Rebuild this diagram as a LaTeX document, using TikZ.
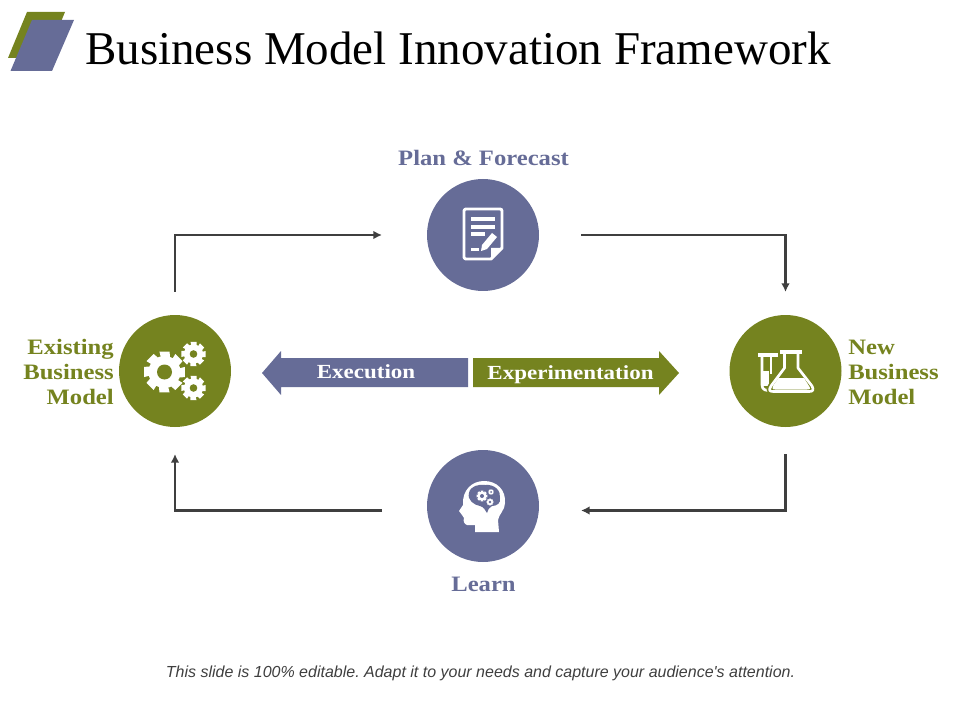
\documentclass[tikz,border=0pt]{standalone}
\usepackage{fontspec}
\setmainfont{Liberation Serif}
\newfontfamily\footfont{Liberation Sans}
\newfontfamily\labfont[FakeStretch=1.12]{Liberation Serif}
\newfontfamily\barfont[FakeStretch=1.15]{Liberation Serif}
\usetikzlibrary{arrows.meta}
\definecolor{plum}{HTML}{666C97}
\definecolor{moss}{HTML}{75831F}
\definecolor{ink}{HTML}{3F3F3F}
\newcommand{\gearshape}[6]{% x y outer root hole fillcolor-of-hole
  \fill[white] ({#1+#3*cos(-14)},{#2+#3*sin(-14)})
  \foreach \k in {0,45,...,315}{
    -- ({#1+#3*cos(\k-14)},{#2+#3*sin(\k-14)})
    -- ({#1+#3*cos(\k+14)},{#2+#3*sin(\k+14)})
    -- ({#1+#4*cos(\k+20)},{#2+#4*sin(\k+20)})
    -- ({#1+#4*cos(\k+25)},{#2+#4*sin(\k+25)})
    -- ({#1+#4*cos(\k+31)},{#2+#4*sin(\k+31)})
  } -- cycle;
  \fill[#6] (#1,#2) circle[radius=#5];
}
\tikzset{
  x=0.75pt,y=-0.75pt,
  hub/.style={circle,inner sep=0pt,outer sep=0pt,minimum size=84pt},
  flow/.style={ink,line width=2pt,-{Latex[length=6.5pt,width=6.5pt]}},
  lab/.style={font=\labfont\fontsize{16.5}{18.75}\selectfont\bfseries,inner sep=0pt},
  barlab/.style={font=\barfont\fontsize{15}{18}\selectfont\bfseries,text=white,inner sep=0pt,anchor=base},
  glyph/.style={white,line width=2pt},
}
\begin{document}
\begin{tikzpicture}
\useasboundingbox (0,0) rectangle (960,720);
% logo
\fill[moss] (27,12) -- (65,12) -- (46,58) -- (8,58) -- cycle;
\fill[plum] (32,20) -- (74,20) -- (52,71) -- (10.5,71) -- cycle;
\node[anchor=west,inner sep=0pt,font=\fontsize{35.25}{40}\selectfont] (title) at (85,48) {Business Model Innovation Framework};
% hubs
\node[hub,fill=plum] (plan) at (483,235) {};
\node[hub,fill=moss] (old) at (175,371) {};
\node[hub,fill=moss] (new) at (785.5,371) {};
\node[hub,fill=plum] (learn) at (483,506) {};
% connectors
\coordinate (learnlow) at (539,510.5);
\coordinate (learnlowl) at (427,510.5);
\draw[flow,shorten <=17.25pt,shorten >=33.75pt] (old.north) |- (plan.west);
\draw[flow,shorten <=31.5pt,shorten >=17.25pt] (plan.east) -| (new.north);
\draw[flow,shorten <=20.25pt,shorten >=31.5pt] (new.south) |- (learnlow);
\draw[flow,shorten <=33.75pt,shorten >=20.25pt] (learnlowl) -| (old.south);
% labels
\node[lab,text=plum] (plantext) at (483.5,158) {Plan \& Forecast};
\node[lab,text=plum] (learntext) at (483.5,584) {Learn};
\node[lab,text=moss,align=right,anchor=east] (oldtext) at (114,372) {Existing\\Business\\Model};
\node[lab,text=moss,align=left,anchor=west] (newtext) at (848,372) {New\\Business\\Model};
% central arrows
\fill[plum] (262,373) -- (281,351) -- (281,358) -- (468,358) -- (468,387) -- (281,387) -- (281,395) -- cycle;
\fill[moss] (679,373) -- (659,351) -- (659,358) -- (473,358) -- (473,387) -- (659,387) -- (659,395) -- cycle;
\node[barlab] (exec) at (366,378) {Execution};
\node[barlab] (expe) at (570.5,379) {Experimentation};
% document icon
\draw[glyph,line width=2.2pt,line join=round] (491,259) -- (466,259) arc[start angle=90,end angle=180,radius=2] -- (464,211) arc[start angle=180,end angle=270,radius=2] -- (500,209) arc[start angle=-90,end angle=0,radius=2] -- (502,248) -- cycle;
\fill[white] (491,259) -- (491,248) -- (502,248) -- cycle;
\fill[white] (471,217.5) rectangle (495,221.5);
\fill[white] (471,225) rectangle (495,229);
\fill[white] (471,232.5) rectangle (485,236.5);
\fill[white] (471,248.5) rectangle (479,251);
\fill[white] (492,233) -- (497,237) -- (487,249) -- (481,251) -- (482,245) -- cycle;
% gears
\gearshape{164.5}{372}{21}{16}{7.5}{moss}
\gearshape{193.5}{354}{12.5}{9.5}{3.8}{moss}
\gearshape{193.5}{388}{12.5}{9.5}{3.8}{moss}
% flask icon
\fill[white] (758,353) rectangle (778,356.5);
\draw[glyph,line join=round] (762,356) -- (762,385) .. controls (762,390) and (766,391) .. (772,390.5);
\draw[glyph] (771,356) -- (771,374);
\fill[white] (762,371) rectangle (769,386);
\draw[moss,line width=4.5pt,line join=round] (784.5,356) -- (784.5,368) -- (771,386) .. controls (768,391) and (770,391.5) .. (774,391.5) -- (809,391.5);
\fill[white] (780,350) rectangle (802,353.5);
\draw[glyph,line join=round] (784.5,353) -- (784.5,368) -- (771,386) .. controls (768,391) and (770,391.5) .. (774,391.5) -- (809,391.5) .. controls (813,391.5) and (814,390) .. (812,386) -- (798,368) -- (798,353);
\fill[white] (778.5,378) -- (804,378) -- (809,386) .. controls (811,389) and (810,389.5) .. (807,389.5) -- (775,389.5) .. controls (772,389.5) and (772,388) .. (773,386) -- cycle;
% head icon
\fill[white] (475,532) -- (475,525) -- (467,525) .. controls (464,524) and (463,521) .. (464,518) -- (462,515) -- (459,511) -- (463,505) .. controls (462,490) and (472,481) .. (484,481) .. controls (497,481) and (506,490) .. (505,503) .. controls (505,510) and (499,514) .. (498,520) -- (499,532) -- cycle;
\fill[plum] (469,493) .. controls (470,486) and (479,484) .. (485,485) .. controls (495,484) and (501,491) .. (500,498) .. controls (501,503) and (497,506) .. (492,506) .. controls (489,507) and (488,510) .. (487,513) .. controls (485,510) and (484,507) .. (480,506) .. controls (474,505) and (467,500) .. (469,493) -- cycle;
\gearshape{482}{496}{5.6}{4.2}{2}{plum}
\gearshape{491}{492}{2.8}{2.2}{1}{plum}
\gearshape{490}{502}{3.5}{2.7}{1.3}{plum}
% footer
\node[inner sep=0pt,font=\footfont\itshape\frenchspacing\fontsize{12}{14}\selectfont,text=ink] (foot) at (480.5,673) {This slide is 100\% editable. Adapt it to your needs and capture your audience's attention.};
\end{tikzpicture}
\end{document}
